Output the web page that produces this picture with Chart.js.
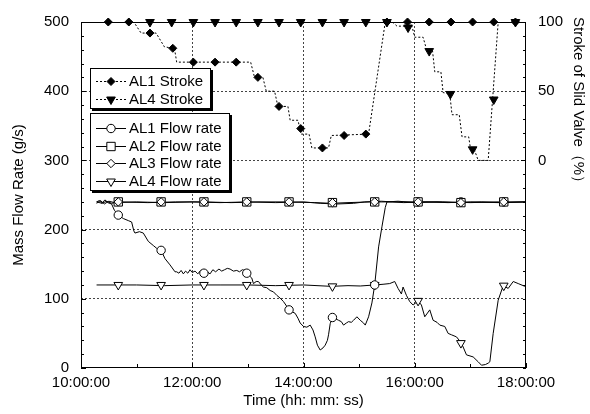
<!DOCTYPE html>
<html>
<head>
<meta charset="utf-8">
<script src="https://cdn.jsdelivr.net/npm/chart.js@4.4.1/dist/chart.umd.min.js"></script>
<style>
  html, body { margin: 0; padding: 0; background: #fff; }
  #wrap { width: 590px; height: 414px; position: relative; }
</style>
</head>
<body>
<div id="wrap"><canvas id="chart"></canvas></div>
<script>
// ── Time axis (hours) ──
const timeMin = 10, timeMax = 18;

// ── Stroke of slide valve (%), right axis: [hour, %] ──
const al1StrokeLine = [
    [10.28, 100], [10.95, 100], [11.08, 92], [11.35, 92], [11.5, 82], [11.68, 81],
    [11.72, 71], [13.05, 71], [13.12, 60], [13.27, 60], [13.33, 50], [13.48, 50],
    [13.54, 39], [13.72, 39], [13.76, 29], [13.9, 29], [13.96, 19], [14.1, 19],
    [14.15, 9], [14.45, 9], [14.5, 18], [15.17, 19], [15.47, 100], [18.0, 100]
];
const al1StrokeMarks = [
    [10.49, 100], [10.86, 100], [11.24, 92], [11.65, 81], [12.02, 71], [12.41, 71],
    [12.79, 71], [13.18, 60], [13.56, 39], [13.95, 23], [14.34, 9], [14.73, 18],
    [15.12, 19], [15.5, 100], [15.87, 100], [16.26, 100], [16.65, 100], [17.04, 100],
    [17.42, 100], [17.81, 100]
];
const al4StrokeLine = [
    [10.28, 100], [15.6, 100], [15.68, 97], [15.95, 97], [16.0, 89], [16.15, 89],
    [16.22, 79], [16.32, 79], [16.36, 64], [16.47, 64], [16.51, 49], [16.63, 48],
    [16.67, 33], [16.8, 33], [16.85, 17], [16.97, 17], [17.0, 9], [17.07, 8],
    [17.14, 0], [17.32, 0], [17.5, 100], [18.0, 100]
];
const al4StrokeMarks = [
    [11.24, 100], [11.63, 100], [12.02, 100], [12.41, 100], [12.79, 100], [13.18, 100],
    [13.56, 100], [13.95, 100], [14.34, 100], [14.73, 100], [15.12, 100], [15.5, 100],
    [15.88, 96], [16.26, 79], [16.64, 48], [17.04, 8], [17.42, 44], [17.81, 100]
];

// ── Mass flow rate (g/s), left axis: [hour, g/s] ──
const al1FlowLine = [
    [10.28, 240], [10.33, 242], [10.38, 238], [10.43, 243], [10.48, 239], [10.55, 237],
    [10.6, 228], [10.67, 221], [10.76, 216], [10.85, 213], [10.91, 211], [10.95, 198],
    [10.97, 195], [11.05, 197], [11.12, 195], [11.21, 183], [11.3, 177], [11.36, 173],
    [11.44, 170], [11.51, 158], [11.6, 149], [11.69, 139], [11.72, 139], [11.76, 137],
    [11.8, 141], [11.84, 136], [11.88, 140], [11.92, 137], [11.96, 142], [12.0, 138],
    [12.05, 140], [12.1, 136], [12.15, 141], [12.21, 137], [12.27, 139], [12.32, 136],
    [12.37, 142], [12.42, 139], [12.48, 143], [12.53, 140], [12.58, 142], [12.63, 144],
    [12.68, 143], [12.74, 140], [12.8, 141], [12.85, 139], [12.9, 142], [12.95, 141],
    [12.98, 137], [13.03, 133], [13.07, 130], [13.1, 122], [13.15, 125], [13.19, 125],
    [13.24, 120], [13.28, 117], [13.34, 116], [13.4, 112], [13.46, 110], [13.52, 105],
    [13.58, 101], [13.64, 96], [13.7, 89], [13.74, 84], [13.8, 81], [13.85, 79],
    [13.9, 72], [13.94, 65], [14.0, 60], [14.06, 59], [14.12, 62], [14.17, 55],
    [14.21, 45], [14.25, 33], [14.3, 26], [14.35, 29], [14.39, 33], [14.43, 40],
    [14.45, 48], [14.48, 64], [14.52, 73], [14.58, 71], [14.63, 69], [14.68, 67],
    [14.72, 62], [14.77, 65], [14.81, 67], [14.86, 66], [14.9, 69], [14.96, 74],
    [15.02, 69], [15.08, 65], [15.11, 62], [15.17, 74], [15.23, 94], [15.28, 120],
    [15.35, 175], [15.41, 204], [15.47, 232], [15.5, 240], [15.7, 241], [16.0, 239],
    [16.4, 240], [16.8, 239], [17.2, 240], [17.6, 239], [18.0, 240]
];
const al2FlowLine = [
    [10.28, 238], [10.35, 242], [10.42, 237], [10.5, 241], [10.6, 239], [11.0, 240],
    [11.5, 239], [12.0, 240], [12.5, 239], [13.0, 240], [13.5, 239], [14.0, 240],
    [14.3, 238], [14.6, 237], [14.9, 238], [15.1, 240], [15.4, 241], [15.8, 239],
    [16.2, 240], [16.6, 239], [17.0, 240], [17.5, 239], [18.0, 240]
];
const al3FlowLine = [
    [10.28, 240], [10.38, 238], [10.46, 241], [10.55, 238], [10.7, 240], [11.2, 239],
    [11.7, 240], [12.2, 240], [12.7, 239], [13.2, 240], [13.7, 240], [14.2, 239],
    [14.5, 238], [14.8, 239], [15.2, 240], [15.6, 240], [16.0, 240], [16.5, 240],
    [17.0, 239], [17.5, 240], [18.0, 240]
];
const al4FlowLine = [
    [10.28, 120], [11.0, 120], [11.5, 119], [12.0, 120], [12.5, 120], [13.0, 120],
    [13.5, 119], [14.0, 120], [14.5, 118], [14.8, 119], [15.02, 118.5], [15.28, 120],
    [15.43, 121], [15.55, 122], [15.64, 125], [15.7, 115], [15.76, 107], [15.79, 117],
    [15.85, 105], [15.91, 96], [15.97, 91], [16.06, 97], [16.12, 91], [16.18, 74],
    [16.27, 84], [16.33, 69], [16.4, 66], [16.45, 62], [16.54, 60], [16.6, 50],
    [16.66, 48], [16.75, 45], [16.84, 36], [16.93, 19], [17.05, 16], [17.14, 9],
    [17.2, 4], [17.27, 5], [17.32, 7], [17.35, 9], [17.41, 50], [17.5, 98],
    [17.59, 119], [17.68, 115], [17.77, 125], [17.86, 122], [17.98, 118]
];

// flow markers are shared in time
const flowMarkTimes = [10.67, 11.44, 12.21, 12.98, 13.74, 14.52, 15.28, 16.06, 16.83, 17.6];
const al1FlowMarks = [221, 170, 137, 137, 84, 73, 120, 240, 240, 240];
const al2FlowMarks = [240, 240, 240, 240, 240, 239, 240, 240, 239, 240];
const al3FlowMarks = [240, 240, 240, 240, 240, 239, 240, 240, 239, 240];
const al4FlowMarks = [120, 120, 120, 120, 120, 118, 120, 97, 36, 119];

// ── Axis ticks ──
const flowMin = 0, flowMax = 500, flowStep = 20, flowLabelEvery = 100;
const strokeMin = -150, strokeMax = 100, strokeStep = 10;
const strokeLabels = [0, 50, 100];
const timeGrid = [12, 14, 16];

const FONT = "'Liberation Sans', Arial, sans-serif";
Chart.defaults.font.family = FONT;
Chart.defaults.font.size = 15;
Chart.defaults.color = '#000';

const pts = arr => arr.map(([x, y]) => ({ x, y }));
const marks = (times, vals) => times.map((x, i) => ({ x, y: vals[i] }));
const hhmmss = h => (h < 10 ? '0' : '') + h + ':00:00';

// ── Series styles (used for both datasets and legend) ──
const STYLES = {
    al1Stroke: { style: 'rectRot', radius: 4, rotation: 0, fill: '#000', dash: [2, 2] },
    al4Stroke: { style: 'triangle', radius: 5, rotation: 180, fill: '#000', dash: [2, 2] },
    al1Flow:   { style: 'circle', radius: 4.2, rotation: 0, fill: '#fff', dash: [] },
    al2Flow:   { style: 'rect', radius: 5.9, rotation: 0, fill: '#fff', dash: [] },
    al3Flow:   { style: 'rectRot', radius: 4.2, rotation: 0, fill: '#fff', dash: [] },
    al4Flow:   { style: 'triangle', radius: 5, rotation: 180, fill: '#fff', dash: [] }
};

function lineSet(data, axis, s) {
    return {
        data, yAxisID: axis, order: 10, showLine: true,
        borderColor: '#000', borderWidth: 1, borderDash: s.dash,
        pointRadius: 0, tension: 0, fill: false
    };
}
function markSet(data, axis, s, order) {
    return {
        data, yAxisID: axis, order, showLine: false, clip: false,
        pointStyle: s.style, pointRadius: s.radius, pointRotation: s.rotation,
        pointBackgroundColor: s.fill, pointBorderColor: '#000', pointBorderWidth: 1
    };
}

// ── Decorations: frame, inward ticks, titles, two legend boxes ──
function drawMark(ctx, s, x, y) {
    ctx.fillStyle = s.fill;
    ctx.strokeStyle = '#000';
    ctx.lineWidth = 1;
    Chart.helpers.drawPoint(ctx, { pointStyle: s.style, radius: s.radius, rotation: s.rotation, borderWidth: 1 }, x, y);
}

const decor = {
    id: 'decor',
    afterDatasetsDraw(chart) {
        const { ctx, chartArea: a, scales } = chart;
        ctx.save();
        ctx.strokeStyle = '#000';
        ctx.lineWidth = 1;
        ctx.setLineDash([]);
        ctx.strokeRect(a.left + 0.5, a.top + 0.5, a.right - a.left - 1, a.bottom - a.top - 1);

        // inward tick marks
        ctx.beginPath();
        scales.x.ticks.forEach(t => {
            const px = Math.round(scales.x.getPixelForValue(t.value)) + 0.5;
            const len = t.value % 2 === 0 ? 5 : 4;
            ctx.moveTo(px, a.bottom); ctx.lineTo(px, a.bottom - len);
        });
        scales.y.ticks.forEach(t => {
            const py = Math.round(scales.y.getPixelForValue(t.value)) + 0.5;
            const len = t.value % flowLabelEvery === 0 ? 5 : 3;
            ctx.moveTo(a.left, py); ctx.lineTo(a.left + len, py);
        });
        scales.y2.ticks.forEach(t => {
            const py = Math.round(scales.y2.getPixelForValue(t.value)) + 0.5;
            const len = strokeLabels.includes(t.value) ? 5 : 3;
            ctx.moveTo(a.right, py); ctx.lineTo(a.right - len, py);
        });
        ctx.stroke();

        // legend boxes
        const boxes = [
            { x: 90, y: 68, w: 121, h: 41, rows: [
                ['AL1 Stroke', STYLES.al1Stroke, 81], ['AL4 Stroke', STYLES.al4Stroke, 99]] },
            { x: 90, y: 113, w: 140, h: 78, rows: [
                ['AL1 Flow rate', STYLES.al1Flow, 128], ['AL2 Flow rate', STYLES.al2Flow, 145.5],
                ['AL3 Flow rate', STYLES.al3Flow, 163], ['AL4 Flow rate', STYLES.al4Flow, 180.5]] }
        ];
        boxes.forEach(b => {
            ctx.fillStyle = '#000';
            ctx.fillRect(b.x + 2, b.y + 2, b.w, b.h);
            ctx.fillStyle = '#fff';
            ctx.fillRect(b.x, b.y, b.w, b.h);
            ctx.strokeStyle = '#000';
            ctx.setLineDash([]);
            ctx.strokeRect(b.x + 0.5, b.y + 0.5, b.w - 1, b.h - 1);
            b.rows.forEach(([label, s, yc]) => {
                ctx.strokeStyle = '#000';
                ctx.setLineDash(s.dash);
                ctx.beginPath();
                ctx.moveTo(96, Math.round(yc) + 0.5);
                ctx.lineTo(126, Math.round(yc) + 0.5);
                ctx.stroke();
                ctx.setLineDash([]);
                drawMark(ctx, s, 111, Math.round(yc) + 0.5);
                ctx.fillStyle = '#000';
                ctx.font = '15px ' + FONT;
                ctx.textAlign = 'left';
                ctx.textBaseline = 'middle';
                ctx.fillText(label, 129, yc + 1);
            });
        });
        ctx.restore();
    },
    afterDraw(chart) {
        const { ctx, chartArea: a } = chart;
        ctx.save();
        ctx.fillStyle = '#000';
        ctx.font = '15px ' + FONT;
        ctx.textBaseline = 'middle';
        // left title
        ctx.save();
        ctx.translate(19, (a.top + a.bottom) / 2);
        ctx.rotate(-Math.PI / 2);
        ctx.textAlign = 'center';
        ctx.fillText('Mass Flow Rate (g/s)', 0, 0);
        ctx.restore();
        // right title
        ctx.save();
        ctx.translate(578, a.top - 5);
        ctx.rotate(Math.PI / 2);
        ctx.textAlign = 'left';
        ctx.fillText('Stroke of Slid Valve（%）', 0, 0);
        ctx.restore();
        // bottom title
        ctx.textAlign = 'center';
        ctx.fillText('Time (hh: mm: ss)', (a.left + a.right) / 2, 401);
        ctx.restore();
    }
};

new Chart(document.getElementById('chart'), {
    type: 'scatter',
    data: {
        datasets: [
            markSet(pts(al1StrokeMarks), 'y2', STYLES.al1Stroke, 1),
            markSet(pts(al4StrokeMarks), 'y2', STYLES.al4Stroke, 1),
            markSet(marks(flowMarkTimes, al3FlowMarks), 'y', STYLES.al3Flow, 2),
            markSet(marks(flowMarkTimes, al2FlowMarks), 'y', STYLES.al2Flow, 3),
            markSet(marks(flowMarkTimes, al1FlowMarks), 'y', STYLES.al1Flow, 4),
            markSet(marks(flowMarkTimes, al4FlowMarks), 'y', STYLES.al4Flow, 4),
            lineSet(pts(al1StrokeLine), 'y2', STYLES.al1Stroke),
            lineSet(pts(al4StrokeLine), 'y2', STYLES.al4Stroke),
            lineSet(pts(al1FlowLine), 'y', STYLES.al1Flow),
            lineSet(pts(al2FlowLine), 'y', STYLES.al2Flow),
            lineSet(pts(al3FlowLine), 'y', STYLES.al3Flow),
            lineSet(pts(al4FlowLine), 'y', STYLES.al4Flow)
        ]
    },
    options: {
        responsive: true,
        maintainAspectRatio: false,
        animation: false,
        events: [],
        layout: { padding: { top: 22, left: 0, right: 0, bottom: 0 } },
        plugins: { legend: { display: false }, tooltip: { enabled: false } },
        scales: {
            x: {
                type: 'linear', min: timeMin, max: timeMax,
                afterFit: s => { s.height = 46; },
                grid: {
                    drawTicks: false,
                    color: c => timeGrid.includes(c.tick && c.tick.value) ? '#444' : 'rgba(0,0,0,0)'
                },
                border: { display: false, dash: [2, 2] },
                ticks: {
                    stepSize: 1, autoSkip: false, maxRotation: 0, padding: 6,
                    callback: v => v % 2 === 0 ? hhmmss(v) : ''
                }
            },
            y: {
                type: 'linear', position: 'left', min: flowMin, max: flowMax,
                afterFit: s => { s.width = 81; },
                grid: {
                    drawTicks: false,
                    color: c => {
                        const v = c.tick && c.tick.value;
                        return (v % flowLabelEvery === 0 && v > flowMin && v < flowMax) ? '#444' : 'rgba(0,0,0,0)';
                    }
                },
                border: { display: false, dash: [2, 2] },
                ticks: {
                    stepSize: flowStep, autoSkip: false, padding: 12,
                    callback: v => v % flowLabelEvery === 0 ? v : ''
                }
            },
            y2: {
                type: 'linear', position: 'right', min: strokeMin, max: strokeMax,
                afterFit: s => { s.width = 64; },
                grid: { display: false, drawTicks: false },
                border: { display: false },
                ticks: {
                    stepSize: strokeStep, autoSkip: false, padding: 12,
                    callback: v => strokeLabels.includes(v) ? v : ''
                }
            }
        }
    },
    plugins: [decor]
});
</script>
</body>
</html>
